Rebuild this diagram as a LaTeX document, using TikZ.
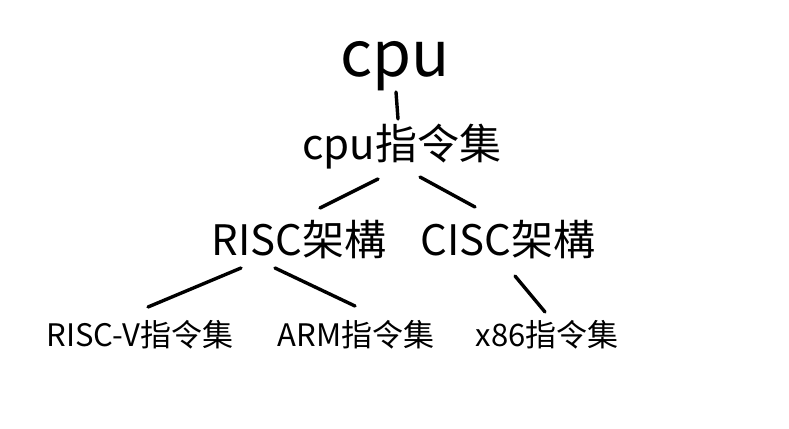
\documentclass[tikz,border=0pt]{standalone}
\usepackage{fontspec}
\setmainfont{Noto Sans CJK SC}
\begin{document}
\begin{tikzpicture}[x=1pt, y=1pt]
  % Styles
  \tikzset{
    top/.style={inner sep=0pt, font=\fontsize{63}{70}\selectfont},
    mid/.style={inner sep=0pt, font=\fontsize{42}{50}\selectfont},
    leaf/.style={inner sep=0pt, font=\fontsize{31}{36}\selectfont},
    link/.style={line width=3.4pt, line cap=round}
  }

  % Frame
  \useasboundingbox (0,0) rectangle (789,-428);

  % Nodes
  \node[top] (cpu) at (395,-66) {cpu};
  \node[mid] (cpuset) at (402,-147) {cpu指令集};
  \node[mid] (risc) at (299,-240) {RISC架構};
  \node[mid] (cisc) at (508,-240) {CISC架構};
  \node[leaf] (riscv) at (140,-335) {RISC-V指令集};
  \node[leaf] (arm) at (356,-335) {ARM指令集};
  \node[leaf] (x86) at (547,-335) {x86指令集};

  % Lines
  \draw[link] ([shift={(1,-26)}]cpu.center) -- ([shift={(-4,28)}]cpuset.center);
  \draw[link] ([shift={(-24,-32)}]cpuset.center) -- ([shift={(21,32)}]risc.center);
  \draw[link] ([shift={(18,-30)}]cpuset.center) -- ([shift={(-33,33)}]cisc.center);
  \draw[link] ([shift={(-58,-28)}]risc.center) -- ([shift={(8,28)}]riscv.center);
  \draw[link] ([shift={(-24,-28)}]risc.center) -- ([shift={(-1,29)}]arm.center);
  \draw[link] ([shift={(7,-36)}]cisc.center) -- ([shift={(-2,23)}]x86.center);
\end{tikzpicture}
\end{document}
